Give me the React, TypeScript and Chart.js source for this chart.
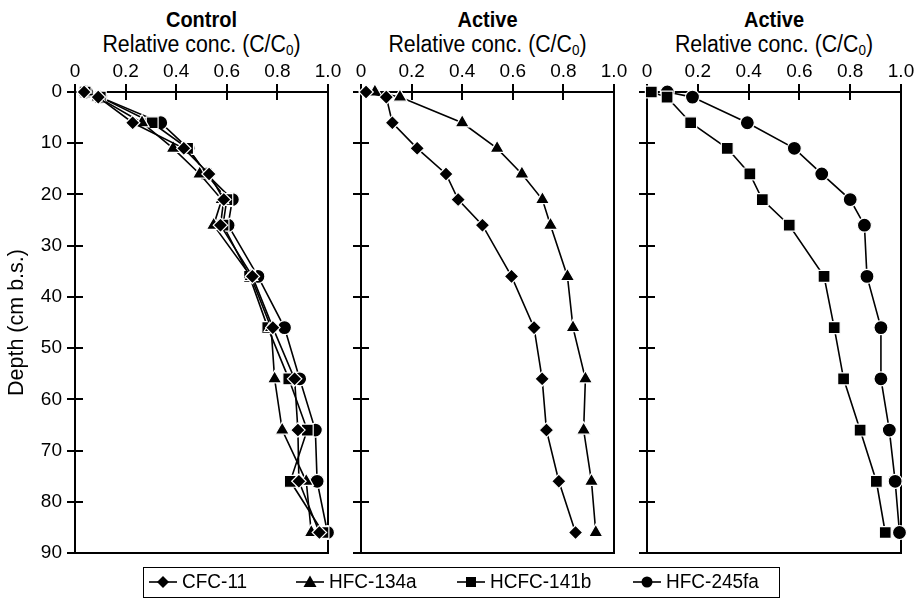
import React, { useEffect, useRef } from "react";
import { Chart, registerables } from "chart.js";
Chart.register(...registerables);

// ---------- data ----------
const depths = [0, 1, 6, 11, 16, 21, 26, 36, 46, 56, 66, 76, 86];
const xTickValues = [0, 0.2, 0.4, 0.6, 0.8, 1.0];
const yTickValues = [0, 10, 20, 30, 40, 50, 60, 70, 80, 90];
const seriesNames = ["CFC-11", "HFC-134a", "HCFC-141b", "HFC-245fa"];
const panelTitles = ["Control", "Active", "Active"];

// Control panel
const controlCFC11 = [0.036, 0.092, 0.228, 0.43, 0.53, 0.588, 0.575, 0.701, 0.782, 0.868, 0.881, 0.885, 0.966];
const controlHFC134a = [0.04, 0.09, 0.265, 0.388, 0.493, 0.58, 0.548, 0.695, 0.775, 0.789, 0.819, 0.914, 0.934];
const controlHCFC141b = [0.04, 0.1, 0.305, 0.445, 0.52, 0.6, 0.585, 0.69, 0.762, 0.845, 0.918, 0.851, 0.98];
const controlHFC245fa = [0.045, 0.1, 0.339, 0.447, 0.52, 0.622, 0.605, 0.723, 0.828, 0.888, 0.95, 0.957, 0.998];

// Active panel (CFC-11, HFC-134a)
const activeCFC11 = [0.02, 0.1, 0.124, 0.222, 0.336, 0.384, 0.48, 0.595, 0.684, 0.716, 0.733, 0.782, 0.848];
const activeHFC134a = [0.055, 0.154, 0.4, 0.538, 0.636, 0.717, 0.749, 0.816, 0.838, 0.887, 0.88, 0.911, 0.928];

// Active panel (HCFC-141b, HFC-245fa)
const activeHCFC141b = [0.017, 0.079, 0.172, 0.316, 0.405, 0.454, 0.56, 0.697, 0.737, 0.774, 0.839, 0.903, 0.938];
const activeHFC245fa = [0.08, 0.179, 0.395, 0.58, 0.688, 0.8, 0.856, 0.866, 0.921, 0.921, 0.954, 0.977, 0.994];

// ---------- styles ----------
const FONT = "'Liberation Sans', Arial, Helvetica, sans-serif";
const W = 919;
const H = 606;
const markerStyle: Record<string, { pointStyle: string; radius: number }> = {
  "CFC-11": { pointStyle: "rectRot", radius: 7.2 },
  "HFC-134a": { pointStyle: "triangle", radius: 8.2 },
  "HCFC-141b": { pointStyle: "rect", radius: 8.4 },
  "HFC-245fa": { pointStyle: "circle", radius: 7 },
};

function makeDataset(name: string, values: number[]) {
  const m = markerStyle[name];
  return {
    label: name,
    data: values.map((v, i) => ({ x: v, y: depths[i] })),
    showLine: true,
    borderColor: "#000",
    borderWidth: 1.6,
    backgroundColor: "#000",
    pointStyle: m.pointStyle,
    pointRadius: m.radius,
    pointBackgroundColor: "#000",
    pointBorderColor: "#fff",
    pointBorderWidth: 1.2,
    clip: false,
  };
}

const framePlugin = {
  id: "frame",
  beforeDatasetsDraw(chart: any) {
    const { ctx, chartArea: a, scales } = chart;
    ctx.save();
    ctx.strokeStyle = "#000";
    ctx.lineWidth = 2;
    ctx.strokeRect(a.left, a.top, a.right - a.left, a.bottom - a.top);
    ctx.beginPath();
    for (const v of xTickValues) {
      const px = Math.round(scales.x.getPixelForValue(v));
      ctx.moveTo(px, a.top - 8);
      ctx.lineTo(px, a.top + 8);
    }
    for (const v of yTickValues) {
      const py = Math.round(scales.y.getPixelForValue(v));
      ctx.moveTo(a.left - 8, py);
      ctx.lineTo(a.left + 8, py);
    }
    ctx.stroke();
    ctx.restore();
  },
};

const CANVAS_TOP = 55;
const CANVAS_H = 512;
const X_AXIS_H = 37;
const BOTTOM_PAD = 14;

type PanelProps = {
  plotLeft: number;
  plotRight: number;
  axisWidth: number;
  showYLabels: boolean;
  datasets: any[];
};

function zeroPad(s: any) {
  s.paddingLeft = 0;
  s.paddingRight = 0;
  s.paddingTop = 0;
  s.paddingBottom = 0;
}

function Panel({ plotLeft, plotRight, axisWidth, showYLabels, datasets }: PanelProps) {
  const ref = useRef<HTMLCanvasElement | null>(null);
  useEffect(() => {
    if (!ref.current) return;
    const chart = new Chart(ref.current, {
      type: "scatter",
      data: { datasets },
      options: {
        animation: false,
        responsive: false,
        maintainAspectRatio: false,
        layout: {
          padding: { left: plotLeft - axisWidth, right: W - plotRight, top: 0, bottom: BOTTOM_PAD },
        },
        plugins: { legend: { display: false }, tooltip: { enabled: false } },
        scales: {
          x: {
            type: "linear",
            position: "top",
            min: 0,
            max: 1,
            afterBuildTicks: (s: any) => {
              s.ticks = xTickValues.map((v) => ({ value: v }));
            },
            afterFit: (s: any) => {
              s.height = X_AXIS_H;
              zeroPad(s);
            },
            ticks: {
              color: "#000",
              font: { family: FONT, size: 19 },
              padding: 9,
              maxRotation: 0,
              autoSkip: false,
              callback: (v: any) => (v === 0 ? "0" : Number(v).toFixed(1)),
            },
            grid: { display: false, drawTicks: false },
            border: { display: false },
          },
          y: {
            type: "linear",
            position: "left",
            reverse: true,
            min: 0,
            max: 90,
            afterBuildTicks: (s: any) => {
              s.ticks = yTickValues.map((v) => ({ value: v }));
            },
            afterFit: (s: any) => {
              s.width = axisWidth;
              zeroPad(s);
            },
            ticks: {
              display: showYLabels,
              color: "#000",
              font: { family: FONT, size: 19 },
              padding: 13,
              callback: (v: any) => String(v),
            },
            title: {
              display: showYLabels,
              text: "Depth (cm b.s.)",
              color: "#000",
              font: { family: FONT, size: 21.5 },
              padding: { top: 4, bottom: 0 },
            },
            grid: { display: false, drawTicks: false },
            border: { display: false },
          },
        },
      },
      plugins: [framePlugin],
    } as any);
    return () => chart.destroy();
  }, []);
  return (
    <canvas
      ref={ref}
      width={W}
      height={CANVAS_H}
      style={{ position: "absolute", left: 0, top: CANVAS_TOP, width: W, height: CANVAS_H }}
    />
  );
}

const panels = [
  {
    plotLeft: 75,
    plotRight: 328,
    axisWidth: 75,
    showYLabels: true,
    datasets: [
      makeDataset("CFC-11", controlCFC11),
      makeDataset("HFC-134a", controlHFC134a),
      makeDataset("HCFC-141b", controlHCFC141b),
      makeDataset("HFC-245fa", controlHFC245fa),
    ],
  },
  {
    plotLeft: 361,
    plotRight: 614,
    axisWidth: 21,
    showYLabels: false,
    datasets: [makeDataset("CFC-11", activeCFC11), makeDataset("HFC-134a", activeHFC134a)],
  },
  {
    plotLeft: 647,
    plotRight: 901,
    axisWidth: 21,
    showYLabels: false,
    datasets: [makeDataset("HCFC-141b", activeHCFC141b), makeDataset("HFC-245fa", activeHFC245fa)],
  },
];

function LegendMarker({ name }: { name: string }) {
  const cx = 15;
  const cy = 9;
  let shape: any = null;
  if (name === "CFC-11")
    shape = <polygon points={`${cx},${cy - 6} ${cx + 6},${cy} ${cx},${cy + 6} ${cx - 6},${cy}`} fill="#000" />;
  else if (name === "HFC-134a")
    shape = <polygon points={`${cx},${cy - 6.5} ${cx + 6.5},${cy + 5} ${cx - 6.5},${cy + 5}`} fill="#000" />;
  else if (name === "HCFC-141b") shape = <rect x={cx - 5} y={cy - 5} width={10} height={10} fill="#000" />;
  else shape = <circle cx={cx} cy={cy} r={5.5} fill="#000" />;
  return (
    <svg width={30} height={18} style={{ display: "block" }}>
      <line x1={1} y1={cy} x2={29} y2={cy} stroke="#000" strokeWidth={1.6} />
      {shape}
    </svg>
  );
}

const legendX = [4, 151, 312, 488];

export default function App() {
  const centers = panels.map((p) => (p.plotLeft + p.plotRight) / 2);
  return (
    <div
      style={{
        position: "absolute",
        left: 0,
        top: 0,
        width: W,
        height: H,
        background: "#fff",
        fontFamily: FONT,
        color: "#000",
        overflow: "hidden",
      }}
    >
      {panelTitles.map((t, i) => (
        <React.Fragment key={i}>
          <div
            style={{
              position: "absolute",
              left: centers[i] - 150,
              width: 300,
              top: 7,
              height: 24,
              textAlign: "center",
              fontWeight: "bold",
              fontSize: 20,
              lineHeight: "24px",
              transform: "scaleY(1.12)",
            }}
          >
            {t}
          </div>
          <div
            style={{
              position: "absolute",
              left: centers[i] - 150,
              width: 300,
              top: 32,
              height: 24,
              textAlign: "center",
              fontSize: 21.3,
              lineHeight: "24px",
              whiteSpace: "nowrap",
              transform: "scaleY(1.08)",
            }}
          >
            Relative conc. (C/C
            <sub style={{ fontSize: 13.5, verticalAlign: "-3px", lineHeight: 0 }}>0</sub>)
          </div>
        </React.Fragment>
      ))}
      {panels.map((p, i) => (
        <Panel key={i} {...p} />
      ))}
      <div
        style={{
          position: "absolute",
          left: 143,
          top: 567,
          width: 637,
          height: 31,
          border: "1.5px solid #000",
          boxSizing: "border-box",
        }}
      >
        {seriesNames.map((n, i) => (
          <div
            key={n}
            style={{
              position: "absolute",
              left: legendX[i],
              top: 0,
              height: 28,
              display: "flex",
              alignItems: "center",
              whiteSpace: "nowrap",
              fontSize: 19,
            }}
          >
            <LegendMarker name={n} />
            <span style={{ marginLeft: 4, display: "inline-block", transform: "scaleY(1.08)" }}>{n}</span>
          </div>
        ))}
      </div>
    </div>
  );
}
